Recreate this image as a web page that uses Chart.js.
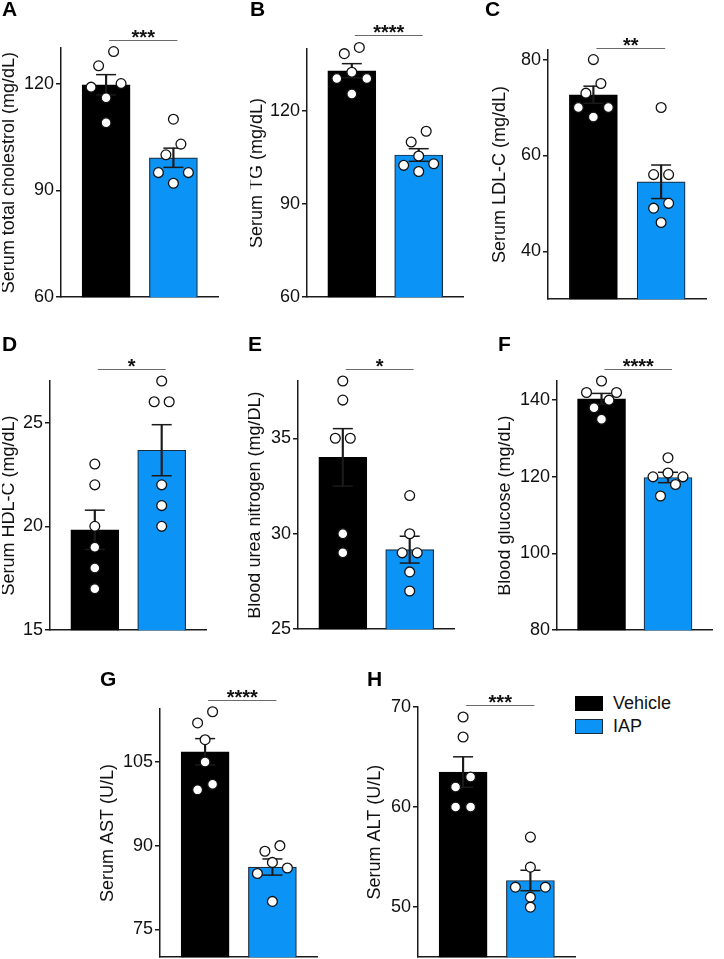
<!DOCTYPE html>
<html>
<head>
<meta charset="utf-8">
<script src="https://cdn.jsdelivr.net/npm/chart.js@4.4.1/dist/chart.umd.min.js"></script>
<style>
  body { margin: 0; background: #fff; width: 724px; height: 959px; position: relative; overflow: hidden; }
  .panel { position: absolute; }
  #legend { position: absolute; left: 575px; top: 692px; font: 18px "Liberation Sans", Arial, sans-serif; color: #111; }
  #legend .li { display: flex; align-items: center; height: 23px; }
  #legend .sw { display: inline-block; width: 26px; height: 13px; margin-right: 10px; }
</style>
</head>
<body>
<div id="legend"></div>
<script>
const FONT = '"Liberation Sans", Arial, Helvetica, sans-serif';

// groups and per-panel values (individual animals)
const groups = ['Vehicle', 'IAP'];
const letters = ['A', 'B', 'C', 'D', 'E', 'F', 'G', 'H'];
const yTitles = ['Serum total cholestrol (mg/dL)', 'Serum TG (mg/dL)', 'Serum LDL-C (mg/dL)',
  'Serum HDL-C (mg/dL)', 'Blood urea nitrogen (mg/DL)', 'Blood glucose (mg/dL)',
  'Serum AST (U/L)', 'Serum ALT (U/L)'];
const stars = ['***', '****', '**', '*', '*', '****', '****', '***'];

const vehicleA = [129, 125, 120, 119, 116, 109];
const iapA = [110, 103, 100, 95, 95, 92];
const vehicleB = [140.5, 138.5, 132.5, 130.5, 130.5, 125.5];
const iapB = [113.5, 110, 105.5, 103, 102.5, 100.5];
const vehicleC = [80, 75, 73, 70, 70, 68];
const iapC = [70, 56, 56, 50, 49, 46];
const vehicleD = [23, 22, 20, 19, 18, 17];
const iapD = [27, 26, 26, 22, 21, 20];
const vehicleE = [38, 37, 35, 35, 30, 29];
const iapE = [32, 30, 29, 29, 28, 27];
const vehicleF = [145, 142, 142, 140, 138, 135];
const iapF = [125, 121, 120, 120, 118, 115];
const vehicleG = [114, 112, 109, 105, 101, 100];
const iapG = [90, 89, 87, 86, 85, 80];
const vehicleH = [69, 67, 63, 62, 60, 60];
const iapH = [57, 54, 52, 52, 51, 50];

// y axis ranges and tick steps
const yMin = [60, 60, 30, 15, 25, 80, 70, 45];
const yMax = [130, 140, 82, 27, 38, 145, 114.5, 70];
const yStep = [30, 30, 20, 5, 5, 20, 15, 10];

const vehicleSets = [vehicleA, vehicleB, vehicleC, vehicleD, vehicleE, vehicleF, vehicleG, vehicleH];
const iapSets = [iapA, iapB, iapC, iapD, iapE, iapF, iapG, iapH];

// page layout of each panel (pixels)
const frames = [
  { left: 2,   top: 0,   plotL: 61,  plotR: 228, plotT: 48,  plotB: 298, tPad: 0 },
  { left: 250, top: 0,   plotL: 307, plotR: 473, plotT: 49,  plotB: 298, tPad: 0 },
  { left: 485, top: 0,   plotL: 548, plotR: 716, plotT: 50,  plotB: 300, tPad: 8 },
  { left: 2,   top: 335, plotL: 50,  plotR: 216, plotT: 381, plotB: 631, tPad: 0 },
  { left: 248, top: 335, plotL: 298, plotR: 464, plotT: 381, plotB: 630, tPad: 0 },
  { left: 498, top: 335, plotL: 557, plotR: 722, plotT: 381, plotB: 631, tPad: 0 },
  { left: 100, top: 670, plotL: 160, plotR: 327, plotT: 709, plotB: 958, tPad: 1 },
  { left: 367, top: 670, plotL: 418, plotR: 585, plotT: 707, plotB: 958, tPad: 1 }
];

const colors = ['#000000', '#0b93f6'];
const edges = ['#000000', '#1d2c3c'];
const ink = '#1a1a1a';

function mean(a) { return a.reduce((s, v) => s + v, 0) / a.length; }
function sem(a) {
  const m = mean(a);
  const v = a.reduce((s, x) => s + (x - m) * (x - m), 0) / (a.length - 1);
  return Math.sqrt(v / a.length);
}

Chart.defaults.font.family = FONT;
Chart.defaults.color = '#111';

const sigPlugin = {
  id: 'sig',
  afterDatasetsDraw(chart, args, opts) {
    const xs = chart.scales.x, ys = chart.scales.y, ctx = chart.ctx;
    const yPix = Math.round(ys.getPixelForValue(opts.top) - 12) + 0.5;
    const x0 = xs.getPixelForValue(0) + 3, x1 = xs.getPixelForValue(1) + 4;
    ctx.save();
    ctx.strokeStyle = '#6a6a6a';
    ctx.lineWidth = 1.2;
    ctx.beginPath();
    ctx.moveTo(x0, yPix);
    ctx.lineTo(x1, yPix);
    ctx.stroke();
    ctx.fillStyle = '#111';
    ctx.font = 'bold 20px ' + FONT;
    ctx.textAlign = 'center';
    ctx.textBaseline = 'alphabetic';
    ctx.fillText(opts.stars, (x0 + x1) / 2, yPix + 3);
    ctx.restore();
  }
};

// spread the dots of each group sideways where they would overlap
function placeDots(chart, sets) {
  const xs = chart.scales.x, ys = chart.scales.y;
  const unit = xs.getPixelForValue(1) - xs.getPixelForValue(0);
  const GAP = 15, ROW = 15;
  const ds = chart.data.datasets.find(d => d.label === 'dots');
  ds.data = [];
  sets.forEach((vals, g) => {
    const sorted = vals.map(v => ({ v, p: ys.getPixelForValue(v) })).sort((a, b) => a.p - b.p);
    let i = 0;
    while (i < sorted.length) {
      let j = i + 1;
      while (j < sorted.length && j - i < 3 && sorted[j].p - sorted[i].p < ROW) j++;
      const row = sorted.slice(i, j);
      let offs;
      if (row.length === 1) offs = [0];
      else if (row.length === 2) offs = [GAP / 2, -GAP / 2];
      else {
        const firstPair = (row[1].p - row[0].p) <= (row[2].p - row[1].p);
        offs = firstPair ? [GAP, -GAP, 0] : [0, GAP, -GAP];
      }
      row.forEach((pt, k) => ds.data.push({ x: g + offs[k] / unit, y: pt.v }));
      i = j;
    }
  });
  chart.update('none');
}

const charts = [];
letters.forEach((letter, p) => {
  const f = frames[p];
  const sets = [vehicleSets[p], iapSets[p]];
  const w = f.plotR - f.left + 2;
  const h = f.plotB - f.top + 12;

  const div = document.createElement('div');
  div.className = 'panel';
  div.style.left = f.left + 'px';
  div.style.top = f.top + 'px';
  const cv = document.createElement('canvas');
  cv.width = w; cv.height = h;
  cv.style.width = w + 'px'; cv.style.height = h + 'px';
  div.appendChild(cv);
  document.body.appendChild(div);

  const datasets = [];
  sets.forEach((vals, g) => {
    datasets.push({
      type: 'bar', label: groups[g], order: 3, grouped: false,
      data: [{ x: g, y: mean(vals) }],
      backgroundColor: colors[g], borderColor: edges[g], borderWidth: 1.2,
      barThickness: 48
    });
  });
  sets.forEach((vals, g) => {
    const m = mean(vals), s = sem(vals);
    datasets.push({
      type: 'bar', label: groups[g] + ' SEM', order: 2, grouped: false,
      data: [{ x: g, y: [m - s, m + s] }],
      backgroundColor: ink, borderWidth: 0, barThickness: 1.5
    });
  });
  datasets.push({
    type: 'scatter', label: 'caps', order: 2, clip: false,
    data: sets.flatMap((vals, g) => [{ x: g, y: mean(vals) + sem(vals) }, { x: g, y: mean(vals) - sem(vals) }]),
    pointStyle: 'line', pointRadius: 10, borderColor: ink, borderWidth: 1.5
  });
  datasets.push({
    type: 'scatter', label: 'dots', order: 1, clip: false,
    data: sets.flatMap((vals, g) => vals.map(v => ({ x: g, y: v }))),
    pointRadius: 4.9, backgroundColor: '#ffffff', borderColor: '#111', borderWidth: 1.3
  });

  const chart = new Chart(cv, {
    type: 'bar',
    data: { datasets },
    plugins: [sigPlugin],
    options: {
      responsive: false,
      animation: false,
      events: [],
      layout: { padding: { left: 0, right: 2, top: 0, bottom: 12 } },
      plugins: {
        legend: { display: false },
        tooltip: { enabled: false },
        title: {
          display: true, text: letter, align: 'start', color: '#000',
          font: { size: 21, weight: 'bold', family: FONT, lineHeight: 1 },
          padding: { top: 0, bottom: f.plotT - f.top - 21 }
        },
        sig: { stars: stars[p], top: Math.max(...sets[0], ...sets[1]) }
      },
      scales: {
        x: {
          type: 'linear', min: -0.67, max: 1.67, offset: false,
          ticks: { display: false, stepSize: 1, includeBounds: false },
          grid: { display: false },
          border: { color: ink, width: 1.5 },
          afterFit: s => { s.height = 0; }
        },
        y: {
          min: yMin[p], max: yMax[p],
          ticks: { stepSize: yStep[p], includeBounds: false, padding: 2, color: '#111', font: { size: 18, family: FONT } },
          grid: { drawOnChartArea: false, drawTicks: true, tickLength: 5, color: ink, lineWidth: 1.5 },
          border: { color: ink, width: 1.5 },
          title: {
            display: true, text: yTitles[p], color: '#111',
            font: { size: 18, family: FONT, lineHeight: 0.75 },
            padding: { top: f.tPad, bottom: 0 }
          },
          afterFit: s => { s.width = f.plotL - f.left; }
        }
      }
    }
  });
  placeDots(chart, sets);
  charts.push(chart);
});

// legend built from the library's own legend items of the last panel
const lastChart = charts[charts.length - 1];
const items = lastChart.options.plugins.legend.labels.generateLabels(lastChart)
  .filter(it => groups.includes(it.text));
const legendEl = document.getElementById('legend');
items.forEach(it => {
  const row = document.createElement('div');
  row.className = 'li';
  const sw = document.createElement('span');
  sw.className = 'sw';
  sw.style.background = it.fillStyle;
  sw.style.border = '1.2px solid ' + it.strokeStyle;
  row.appendChild(sw);
  row.appendChild(document.createTextNode(it.text));
  legendEl.appendChild(row);
});
</script>
</body>
</html>
